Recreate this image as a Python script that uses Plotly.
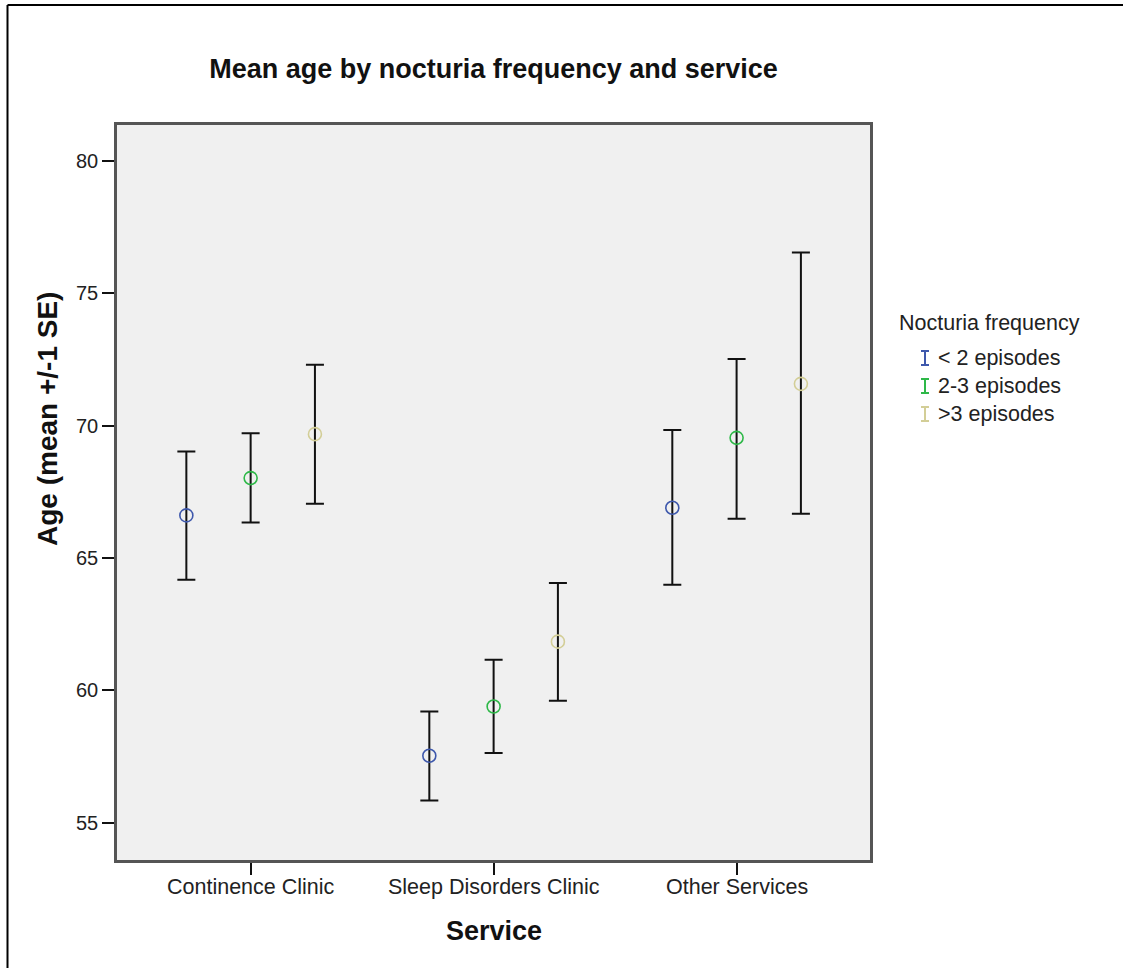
import plotly.graph_objects as go

# ---- data ----
services = ["Continence Clinic", "Sleep Disorders Clinic", "Other Services"]
groups = ["< 2 episodes", "2-3 episodes", ">3 episodes"]

mean_lt2 = [66.61, 57.53, 66.90]
upper_lt2 = [69.02, 59.20, 69.84]
lower_lt2 = [64.18, 55.84, 63.99]

mean_2to3 = [68.02, 59.39, 69.54]
upper_2to3 = [69.71, 61.16, 72.52]
lower_2to3 = [66.34, 57.63, 66.48]

mean_gt3 = [69.68, 61.84, 71.58]
upper_gt3 = [72.30, 64.06, 76.54]
lower_gt3 = [67.05, 59.61, 66.67]

y_ticks = [55, 60, 65, 70, 75, 80]

# ---- styling ----
colors = ["#3e58ac", "#2eb848", "#d3ce97"]
offsets = [-0.2646, 0.0, 0.2646]
FONT = "Liberation Sans, Arial, sans-serif"

W, H = 1123, 968
L, R, T, B = 117, 870, 125, 860  # plot area in pixels


def px_x(p):
    return (p - L) / (R - L)


def px_y(p):
    return (B - p) / (B - T)


series = [
    (mean_lt2, upper_lt2, lower_lt2),
    (mean_2to3, upper_2to3, lower_2to3),
    (mean_gt3, upper_gt3, lower_gt3),
]

fig = go.Figure()
for i, (m, up, lo) in enumerate(series):
    xs = [k + offsets[i] for k in range(len(services))]
    fig.add_trace(go.Scatter(
        x=xs, y=m, mode="markers", name=groups[i],
        marker=dict(symbol="circle-open", size=13, color=colors[i],
                    line=dict(width=1.6, color=colors[i])),
        error_y=dict(type="data", symmetric=False,
                     array=[u - v for u, v in zip(up, m)],
                     arrayminus=[v - d for v, d in zip(m, lo)],
                     color="#111111", thickness=2, width=9),
        showlegend=False,
    ))

shapes = [
    # outer frame (extends beyond the bottom/right of the page)
    dict(type="line", xref="paper", yref="paper",
         x0=px_x(7.5), x1=px_x(1140), y0=px_y(5), y1=px_y(5),
         line=dict(color="black", width=2)),
    dict(type="line", xref="paper", yref="paper",
         x0=px_x(7.5), x1=px_x(7.5), y0=px_y(5), y1=px_y(990),
         line=dict(color="black", width=2)),
]
annotations = [
    dict(text="<b>Age (mean +/-1 SE)</b>", xref="paper", yref="paper",
         x=px_x(47), y=px_y(419), textangle=-90, showarrow=False,
         xanchor="center", yanchor="middle",
         font=dict(family=FONT, size=28, color="#111111")),
    dict(text="<b>Service</b>", xref="paper", yref="paper",
         x=0.5, y=px_y(931), showarrow=False,
         xanchor="center", yanchor="middle",
         font=dict(family=FONT, size=27, color="#111111")),
    dict(text="Nocturia frequency", xref="paper", yref="paper",
         x=px_x(897), y=px_y(323), showarrow=False,
         xanchor="left", yanchor="middle",
         font=dict(family=FONT, size=21.5, color="#222222")),
]

# category labels under the x ticks
for k, s in enumerate(services):
    annotations.append(dict(
        text=s, xref="x", yref="paper", x=k, y=px_y(887),
        showarrow=False, xanchor="center", yanchor="middle",
        font=dict(family=FONT, size=21.5, color="#222222")))

legend_y = [358, 386, 414]
for i, g in enumerate(groups):
    cy = legend_y[i]
    cx = 925
    c = colors[i]
    shapes += [
        dict(type="line", xref="paper", yref="paper",
             x0=px_x(cx), x1=px_x(cx), y0=px_y(cy - 7), y1=px_y(cy + 7),
             line=dict(color=c, width=2)),
        dict(type="line", xref="paper", yref="paper",
             x0=px_x(cx - 4), x1=px_x(cx + 4), y0=px_y(cy - 7), y1=px_y(cy - 7),
             line=dict(color=c, width=2)),
        dict(type="line", xref="paper", yref="paper",
             x0=px_x(cx - 4), x1=px_x(cx + 4), y0=px_y(cy + 7), y1=px_y(cy + 7),
             line=dict(color=c, width=2)),
    ]
    annotations.append(dict(
        text=g, xref="paper", yref="paper", x=px_x(936), y=px_y(cy),
        showarrow=False, xanchor="left", yanchor="middle",
        font=dict(family=FONT, size=21.5, color="#222222")))

fig.update_layout(
    width=W, height=H,
    margin=dict(l=L, r=W - R, t=T, b=H - B, autoexpand=False),
    paper_bgcolor="white", plot_bgcolor="#f0f0f0",
    title=dict(text="<b>Mean age by nocturia frequency and service</b>",
               x=0.5, xref="paper", y=1 - 69 / H, yref="container",
               xanchor="center", yanchor="middle",
               font=dict(family=FONT, size=27, color="#111111")),
    shapes=shapes, annotations=annotations,
    showlegend=False,
)
fig.update_xaxes(
    range=[-0.550, 2.549], tickmode="array", tickvals=list(range(len(services))),
    ticktext=services, showticklabels=False, showgrid=False, zeroline=False,
    showline=True, linecolor="#555555", linewidth=2.5, mirror=True,
    ticks="outside", ticklen=12, tickwidth=2, tickcolor="#111111",
)
fig.update_yaxes(
    range=[53.59, 81.36], tickmode="array", tickvals=y_ticks,
    showgrid=False, zeroline=False,
    showline=True, linecolor="#555555", linewidth=2.5, mirror=True,
    ticks="outside", ticklen=12, tickwidth=2, tickcolor="#111111",
    tickfont=dict(family=FONT, size=20, color="#222222"),
)

fig.write_html(
    "out.html",
    config={"displayModeBar": False},
    post_script="document.body.style.margin='0';document.body.style.overflow='hidden';",
)
